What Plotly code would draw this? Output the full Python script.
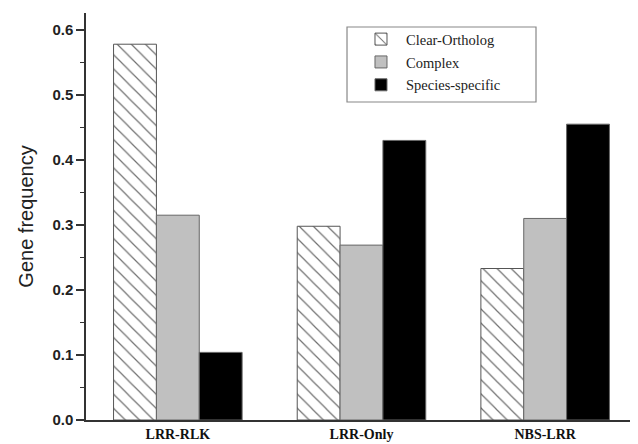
import plotly.graph_objects as go

categories = ["LRR-RLK", "LRR-Only", "NBS-LRR"]
clear_ortholog = [0.578, 0.298, 0.233]
complex_vals = [0.315, 0.269, 0.310]
species_specific = [0.104, 0.430, 0.455]
y_ticks = [0.0, 0.1, 0.2, 0.3, 0.4, 0.5, 0.6]
y_tick_labels = ["0.0", "0.1", "0.2", "0.3", "0.4", "0.5", "0.6"]

fig = go.Figure()
fig.add_trace(go.Bar(
    name="Clear-Ortholog", x=categories, y=clear_ortholog, legendgroup="a",
    marker=dict(color="white", line=dict(color="#555555", width=1),
                pattern=dict(shape="\\", size=10, solidity=0.12,
                             fgcolor="#707070", bgcolor="white", fillmode="replace")),
))
fig.add_trace(go.Bar(
    name="Complex", x=categories, y=complex_vals, legendgroup="b",
    marker=dict(color="#c0c0c0", line=dict(color="#666666", width=1)),
))
fig.add_trace(go.Bar(
    name="Species-specific", x=categories, y=species_specific, legendgroup="c",
    marker=dict(color="black", line=dict(color="#666666", width=1)),
))

# legend frame (decoration)
fig.add_shape(type="rect", xref="paper", yref="paper",
              x0=0.4737, x1=0.8167, y0=0.7813, y1=0.9656,
              line=dict(color="#888888", width=1.2), fillcolor="rgba(0,0,0,0)")

fig.update_layout(
    width=638, height=444,
    margin=dict(l=78, r=9, t=5, b=32),
    paper_bgcolor="white", plot_bgcolor="white",
    barmode="group", bargap=0.3, bargroupgap=0,
    showlegend=True,
    legend=dict(
        x=0.490, y=0.975, xanchor="left", yanchor="top",
        borderwidth=0, bgcolor="rgba(0,0,0,0)",
        font=dict(family="Liberation Serif, Times New Roman, serif", size=14.5, color="#222222"),
        tracegroupgap=1, itemwidth=40,
    ),
    xaxis=dict(
        range=[-0.5, 2.5], showline=True, linecolor="#333333", linewidth=1.5,
        ticks="", showgrid=False, zeroline=False,
        tickfont=dict(family="Liberation Serif, Times New Roman, serif", size=14, color="#111111", weight="bold"),
    ),
    yaxis=dict(
        range=[0, 0.626], showline=True, linecolor="#333333", linewidth=1.5,
        tickvals=y_ticks, ticktext=y_tick_labels,
        ticks="outside", ticklen=8, tickwidth=1.5, tickcolor="#333333",
        minor=dict(dtick=0.05, ticks="outside", ticklen=4, tickwidth=1.2, tickcolor="#333333", showgrid=False),
        showgrid=False, zeroline=False,
        tickfont=dict(family="Liberation Sans, Arial, sans-serif", size=15, color="#222222", weight="bold"),
        title=dict(text="Gene frequency", standoff=13,
                   font=dict(family="Liberation Sans, Arial, sans-serif", size=20, color="#222222")),
    ),
)

fig.write_html("out.html")
